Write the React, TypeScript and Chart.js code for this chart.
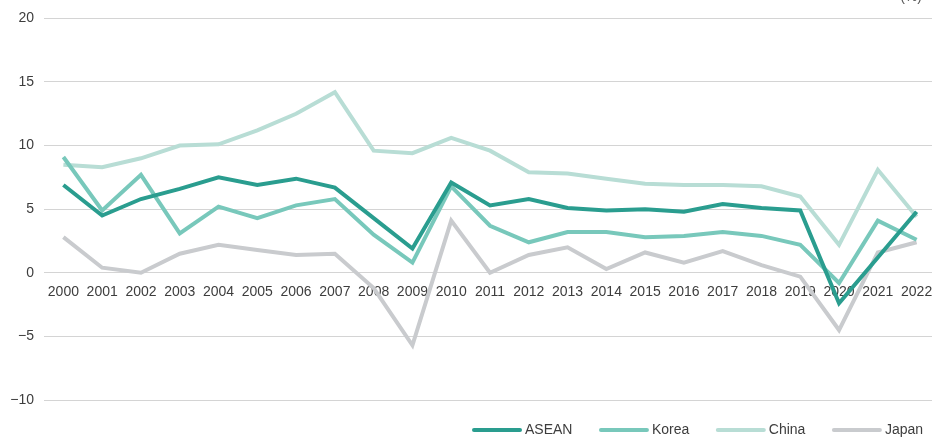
import React, { useEffect, useRef } from "react";
import { Chart, registerables } from "chart.js";

Chart.register(...registerables);

const years = [
  "2000", "2001", "2002", "2003", "2004", "2005", "2006", "2007", "2008", "2009", "2010", "2011",
  "2012", "2013", "2014", "2015", "2016", "2017", "2018", "2019", "2020", "2021", "2022",
];

const asean = [6.9, 4.5, 5.8, 6.6, 7.5, 6.9, 7.4, 6.7, 4.3, 1.9, 7.1, 5.3, 5.8, 5.1, 4.9, 5.0, 4.8, 5.4, 5.1, 4.9, -2.4, 1.2, 4.8];
const korea = [9.1, 4.9, 7.7, 3.1, 5.2, 4.3, 5.3, 5.8, 3.0, 0.8, 6.8, 3.7, 2.4, 3.2, 3.2, 2.8, 2.9, 3.2, 2.9, 2.2, -0.8, 4.1, 2.6];
const china = [8.5, 8.3, 9.0, 10.0, 10.1, 11.2, 12.5, 14.2, 9.6, 9.4, 10.6, 9.6, 7.9, 7.8, 7.4, 7.0, 6.9, 6.9, 6.8, 6.0, 2.2, 8.1, 4.4];
const japan = [2.8, 0.4, 0.0, 1.5, 2.2, 1.8, 1.4, 1.5, -1.2, -5.7, 4.1, 0.0, 1.4, 2.0, 0.3, 1.6, 0.8, 1.7, 0.6, -0.3, -4.5, 1.6, 2.4];

const seriesNames = ["ASEAN", "Korea", "China", "Japan"];
const seriesColors = ["#2a9d8f", "#78c8bb", "#b8ddd5", "#c9cbce"];

const yMin = -10;
const yMax = 20;
const yStep = 5;
const unitLabel = "(%)";

const FONT = "'Liberation Sans', Arial, Helvetica, sans-serif";
const TEXT_COLOR = "#3d3d3d";

const legendPlugin = {
  id: "customLegend",
  afterDraw(chart: any) {
    const ctx = chart.ctx as CanvasRenderingContext2D;
    ctx.save();
    ctx.font = `14px ${FONT}`;
    ctx.textBaseline = "middle";
    ctx.textAlign = "left";
    let x = 472;
    const y = 430;
    chart.data.datasets.forEach((ds: any) => {
      ctx.strokeStyle = ds.borderColor;
      ctx.lineWidth = 4;
      ctx.lineCap = "round";
      ctx.beginPath();
      ctx.moveTo(x + 2, y);
      ctx.lineTo(x + 48, y);
      ctx.stroke();
      ctx.fillStyle = TEXT_COLOR;
      ctx.fillText(ds.label, x + 53, y);
      x += 53 + ctx.measureText(ds.label).width + 26.5;
    });
    ctx.textAlign = "right";
    ctx.textBaseline = "alphabetic";
    ctx.fillStyle = "#555";
    ctx.fillText(unitLabel, 922, 1);
    ctx.restore();
  },
};

export default function App() {
  const canvasRef = useRef<HTMLCanvasElement | null>(null);

  useEffect(() => {
    if (!canvasRef.current) return;
    Chart.defaults.font.family = FONT;
    const seriesData = [asean, korea, china, japan];
    const chart = new Chart(canvasRef.current, {
      type: "line",
      data: {
        labels: years,
        datasets: seriesNames.map((name, i) => ({
          label: name,
          data: seriesData[i],
          borderColor: seriesColors[i],
          backgroundColor: seriesColors[i],
          borderWidth: 4,
          pointRadius: 0,
          tension: 0,
          fill: false,
        })),
      },
      options: {
        animation: false,
        responsive: false,
        layout: { padding: { top: 17, bottom: 39, left: 0, right: 4 } },
        plugins: {
          legend: { display: false },
          tooltip: { enabled: false },
        },
        scales: {
          x: {
            type: "category",
            position: { y: 0 } as any,
            offset: true,
            grid: { display: false },
            border: { display: false },
            ticks: {
              color: TEXT_COLOR,
              font: { size: 14, family: FONT },
              padding: 3,
              autoSkip: false,
              maxRotation: 0,
            },
          },
          y: {
            type: "linear",
            min: yMin,
            max: yMax,
            afterFit: (scale: any) => {
              scale.width = 44;
            },
            grid: { color: "#d4d4d4", drawTicks: false, lineWidth: 1 },
            border: { display: false },
            ticks: {
              stepSize: yStep,
              padding: 10,
              color: TEXT_COLOR,
              font: { size: 14, family: FONT },
              callback: (v: any) => (Number(v) < 0 ? "\u2212" + Math.abs(Number(v)) : String(v)),
            },
          },
        },
      },
      plugins: [legendPlugin],
    });
    return () => chart.destroy();
  }, []);

  return (
    <div
      style={{
        position: "fixed",
        left: 0,
        top: 0,
        width: 932,
        height: 439,
        overflow: "hidden",
        background: "#fff",
      }}
    >
      <canvas ref={canvasRef} width={940} height={439} style={{ display: "block" }} />
    </div>
  );
}
